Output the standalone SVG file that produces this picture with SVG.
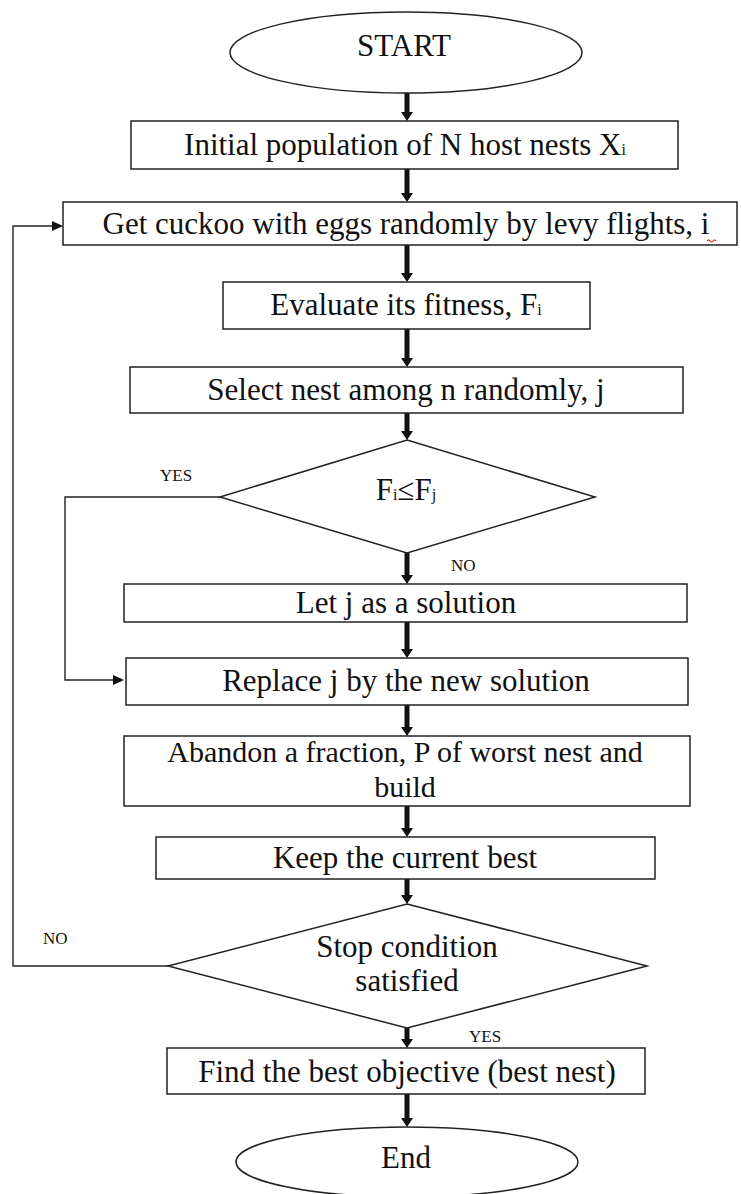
<svg xmlns="http://www.w3.org/2000/svg" width="741" height="1194" viewBox="0 0 741 1194">
<style>
.box{fill:#fff;stroke:#222;stroke-width:1.5}
.t{font-family:"Liberation Serif","Times New Roman",serif;font-size:31px;fill:#111;text-anchor:middle}
.t2{font-size:30px}
.lbl{font-family:"Liberation Serif","Times New Roman",serif;font-size:17px;fill:#111}
.sub{font-size:16px}
.thick{stroke:#111;stroke-width:5;fill:none;marker-end:url(#big)}
.thinA{stroke:#222;stroke-width:1.4;fill:none;marker-end:url(#small)}
</style>
<defs>
<marker id="big" markerUnits="userSpaceOnUse" markerWidth="10" markerHeight="12" refX="0" refY="6" orient="auto">
<path d="M0,0 L9,6 L0,12 z" fill="#111"/>
</marker>
<marker id="small" markerUnits="userSpaceOnUse" markerWidth="12" markerHeight="10" refX="0" refY="5" orient="auto">
<path d="M0,0 L11,5 L0,10 z" fill="#111"/>
</marker>
</defs>
<rect width="741" height="1194" fill="#fff"/>

<g id="connectors">
<line class="thick" x1="407" y1="93" x2="407" y2="112"/>
<line class="thick" x1="407" y1="169" x2="407" y2="193"/>
<line class="thick" x1="407" y1="245" x2="407" y2="273"/>
<line class="thick" x1="407" y1="329" x2="407" y2="358"/>
<line class="thick" x1="407" y1="413" x2="407" y2="431"/>
<line class="thick" x1="407" y1="553" x2="407" y2="575"/>
<line class="thick" x1="407" y1="622" x2="407" y2="649"/>
<line class="thick" x1="407" y1="705" x2="407" y2="727"/>
<line class="thick" x1="407" y1="806" x2="407" y2="828"/>
<line class="thick" x1="407" y1="879" x2="407" y2="895"/>
<line class="thick" x1="407" y1="1028" x2="407" y2="1039"/>
<line class="thick" x1="407" y1="1094" x2="407" y2="1118"/>
<polyline class="thinA" points="220,497 65,497 65,680 113,680"/>
<polyline class="thinA" points="168,966 13,966 13,226 52,226"/>
</g>

<g id="start">
<ellipse cx="406" cy="52.5" rx="176" ry="40.5" class="box"/>
<text class="t" x="404" y="56">START</text>
</g>

<g id="init">
<rect class="box" x="131" y="121" width="547" height="48"/>
<text class="t" x="405" y="155">Initial population of N host nests X<tspan class="sub">i</tspan></text>
</g>

<g id="levy">
<rect class="box" x="63" y="202" width="674" height="43"/>
<text class="t" x="406" y="234">Get cuckoo with eggs randomly by levy flights, i</text>
<path d="M707,241 q1.5,-2 3,0 t3,0 t3,0" fill="none" stroke="#d22" stroke-width="1.2"/>
</g>

<g id="evaluate">
<rect class="box" x="223" y="282" width="367" height="47"/>
<text class="t" x="406" y="315">Evaluate its fitness, F<tspan class="sub">i</tspan></text>
</g>

<g id="select">
<rect class="box" x="130" y="367" width="553" height="46"/>
<text class="t" x="406" y="400">Select nest among n randomly, j</text>
</g>

<g id="compare">
<polygon class="box" points="407,440 595,497 407,553 220,497"/>
<text class="t" x="406" y="500">F<tspan class="sub">i</tspan>≤F<tspan class="sub">j</tspan></text>
<text class="lbl" x="160" y="481">YES</text>
<text class="lbl" x="451" y="571">NO</text>
</g>

<g id="letj">
<rect class="box" x="124" y="584" width="563" height="38"/>
<text class="t" x="406" y="613">Let j as a solution</text>
</g>

<g id="replace">
<rect class="box" x="126" y="658" width="562" height="47"/>
<text class="t" x="406" y="691">Replace j by the new solution</text>
</g>

<g id="abandon">
<rect class="box" x="124" y="736" width="566" height="70"/>
<text class="t t2" x="405" y="762">Abandon a fraction, P of worst nest and</text>
<text class="t t2" x="405" y="797">build</text>
</g>

<g id="keep">
<rect class="box" x="156" y="837" width="499" height="42"/>
<text class="t" x="405" y="868">Keep the current best</text>
</g>

<g id="stop">
<polygon class="box" points="407,904 647,966 407,1028 168,966"/>
<text class="t" x="407" y="957">Stop condition</text>
<text class="t" x="407" y="991">satisfied</text>
<text class="lbl" x="43" y="944">NO</text>
<text class="lbl" x="469" y="1042">YES</text>
</g>

<g id="best">
<rect class="box" x="167" y="1048" width="478" height="46"/>
<text class="t" x="407" y="1082">Find the best objective (best nest)</text>
</g>

<g id="end">
<ellipse cx="407" cy="1162" rx="171" ry="35" class="box"/>
<text class="t" x="406" y="1168">End</text>
</g>
</svg>
